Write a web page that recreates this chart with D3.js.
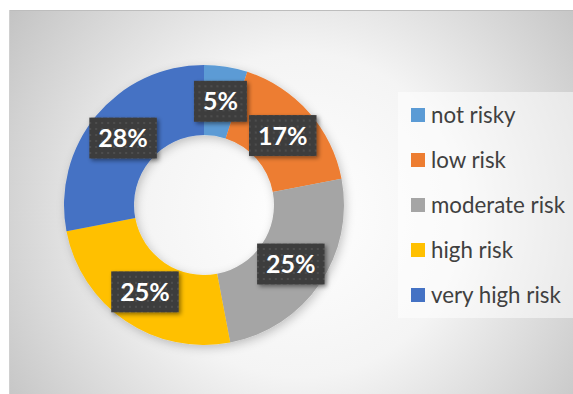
<!DOCTYPE html>
<html>
<head>
<meta charset="utf-8">
<script src="https://cdn.jsdelivr.net/npm/d3@7"></script>
<style>
  html, body { margin: 0; padding: 0; background: #fff; }
  svg { display: block; }
</style>
</head>
<body>
<svg id="chart" width="573" height="394"></svg>
<script>
const categories = ["not risky", "low risk", "moderate risk", "high risk", "very high risk"];
const shares = [5, 17, 25, 25, 28];
const palette = ["#5B9BD5", "#ED7D31", "#A5A5A5", "#FFC000", "#4472C4"];

const width = 573;
const height = 394;
const frame = { x: 9, y: 10 };
const center = { x: 204, y: 205 };
const outerR = 140;
const innerR = 70;

const svg = d3.select("#chart");
const defs = svg.append("defs");

// background radial gradient (white centre, grey corners)
const bg = defs.append("radialGradient")
  .attr("id", "bg")
  .attr("gradientUnits", "userSpaceOnUse")
  .attr("cx", 300).attr("cy", 215).attr("r", 360);
bg.append("stop").attr("offset", 0).attr("stop-color", "#ffffff");
bg.append("stop").attr("offset", 0.45).attr("stop-color", "#f4f4f4");
bg.append("stop").attr("offset", 1).attr("stop-color", "#c2c2c2");

// dotted fill for label boxes
const dots = defs.append("pattern")
  .attr("id", "dots")
  .attr("patternUnits", "userSpaceOnUse")
  .attr("width", 6).attr("height", 6);
dots.append("rect").attr("width", 6).attr("height", 6).attr("fill", "#3d3d3d");
dots.append("rect").attr("x", 2).attr("y", 2).attr("width", 2).attr("height", 2).attr("fill", "#4e4e4e");

function shadow(id, blur, dx, dy, op) {
  const f = defs.append("filter").attr("id", id)
    .attr("x", "-30%").attr("y", "-30%").attr("width", "160%").attr("height", "160%");
  f.append("feDropShadow")
    .attr("dx", dx).attr("dy", dy)
    .attr("stdDeviation", blur)
    .attr("flood-color", "#000").attr("flood-opacity", op);
}
shadow("ringShadow", 5, 2, 3, 0.22);
shadow("boxShadow", 2, 2, 2, 0.45);

svg.append("rect")
  .attr("x", frame.x).attr("y", frame.y)
  .attr("width", width - frame.x).attr("height", height - frame.y)
  .attr("fill", "url(#bg)");
svg.append("line")
  .attr("x1", frame.x).attr("x2", width)
  .attr("y1", frame.y + 0.5).attr("y2", frame.y + 0.5)
  .attr("stroke", "#bdbdbd");
svg.append("line")
  .attr("x1", frame.x + 0.5).attr("x2", frame.x + 0.5)
  .attr("y1", frame.y).attr("y2", height)
  .attr("stroke", "#d0d0d0");

const color = d3.scaleOrdinal().domain(categories).range(palette);

const pie = d3.pie().sort(null).value((d) => d.value);
const arc = d3.arc().innerRadius(innerR).outerRadius(outerR);

const data = categories.map((c, i) => ({ name: c, value: shares[i] }));
const arcs = pie(data);

const ring = svg.append("g")
  .attr("transform", `translate(${center.x},${center.y})`);

ring.append("g")
  .attr("filter", "url(#ringShadow)")
  .selectAll("path")
  .data(arcs)
  .join("path")
  .attr("d", arc)
  .attr("fill", (d) => color(d.data.name));

const labels = ring.selectAll(".label")
  .data(arcs)
  .join("g")
  .attr("class", "label")
  .attr("transform", (d) => `translate(${arc.centroid(d)})`);

labels.append("text")
  .attr("text-anchor", "middle")
  .attr("dy", "0.36em")
  .attr("font-family", "Lato, 'Open Sans', sans-serif")
  .attr("font-weight", 700)
  .attr("font-size", 25)
  .attr("fill", "#fff")
  .text((d) => `${d.data.value}%`);

labels.each(function () {
  const g = d3.select(this);
  const box = g.select("text").node().getBBox();
  const padX = 9;
  g.insert("rect", "text")
    .attr("x", box.x - padX)
    .attr("y", -20.5)
    .attr("width", box.width + padX * 2)
    .attr("height", 41)
    .attr("fill", "url(#dots)")
    .attr("filter", "url(#boxShadow)");
});

// legend
const legend = svg.append("g");
legend.append("rect")
  .attr("x", 398).attr("y", 92)
  .attr("width", width - 398).attr("height", 226)
  .attr("fill", "#ffffff").attr("fill-opacity", 0.5);

const rows = d3.scaleBand().domain(categories).range([92.5, 317.5]);

const items = legend.selectAll(".item")
  .data(categories)
  .join("g")
  .attr("class", "item")
  .attr("transform", (d) => `translate(411,${rows(d) + rows.bandwidth() / 2})`);

items.append("rect")
  .attr("x", 0).attr("y", -7)
  .attr("width", 14).attr("height", 14)
  .attr("fill", (d) => color(d));

items.append("text")
  .attr("x", 20)
  .attr("dy", "0.34em")
  .attr("font-family", "Lato, 'Open Sans', sans-serif")
  .attr("font-size", 22.3)
  .attr("fill", "#404040")
  .text((d) => d);
</script>
</body>
</html>
